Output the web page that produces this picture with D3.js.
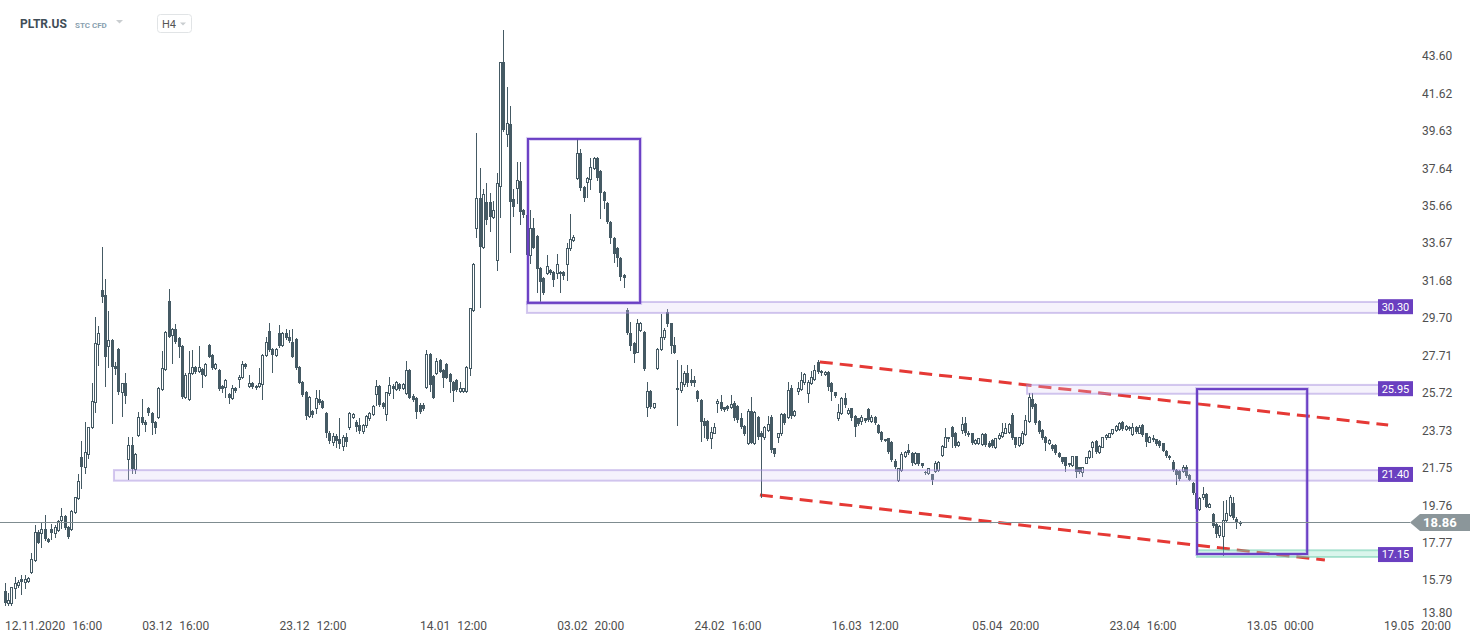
<!DOCTYPE html>
<html>
<head>
<meta charset="utf-8">
<script src="https://cdn.jsdelivr.net/npm/d3@7"></script>
<style>
  html, body { margin: 0; padding: 0; background: #fff; }
  svg { display: block; font-family: Roboto, "Open Sans", sans-serif; }
</style>
</head>
<body>
<svg id="chart"></svg>
<script>
// PLTR.US H4 candles (12.11.2020 -> mid May 2021)
const opens = [
15.24,14.60,14.57,15.36,15.54,15.84,15.71,15.77,16.21,16.86,18.37,18.28,18.49,17.98,18.49,18.31,18.46,18.99,19.20,18.60,
18.49,19.43,20.13,22.31,21.78,22.49,23.90,25.26,28.32,31.19,30.92,28.23,28.53,27.16,28.04,25.79,26.24,22.20,22.96,21.67,
23.49,24.43,24.20,24.91,24.68,24.20,24.43,25.92,26.98,30.60,28.80,29.10,28.62,28.23,25.49,25.39,26.77,27.12,26.91,26.98,
26.68,28.27,27.74,27.03,26.94,26.09,26.02,25.67,25.44,25.97,26.45,26.55,27.26,26.09,26.27,26.09,26.09,26.20,27.74,29.03,
28.04,27.74,28.92,28.27,28.92,28.71,28.45,28.57,27.09,26.32,25.79,24.50,
24.77,24.95,25.41,25.30,24.65,23.60,23.10,23.45,23.30,22.90,23.40,23.94,24.47,24.20,24.00,23.70,24.03,24.38,24.59,25.65,
26.11,25.18,24.59,25.71,26.11,25.94,26.18,25.97,25.71,26.94,25.58,25.47,25.09,25.09,26.06,27.77,26.64,26.77,27.47,26.94,
27.24,26.71,26.32,26.41,25.83,25.83,25.83,27.03,30.13,34.49,36.05,33.49,35.84,35.84,35.08,32.78,36.72,43.26,39.45,39.98,
36.01,36.58,36.97,35.43,35.17,33.04,34.49,34.07,32.37,31.81,32.07,32.25,32.12,32.07,32.12,32.12,32.55,33.43,33.84,37.15,
38.44,36.67,36.90,37.07,37.68,38.21,37.50,36.40,35.78,34.81,33.96,33.40,32.87,31.98,
30.13,28.92,28.39,27.92,29.07,28.97,24.96,25.85,24.96,27.03,28.04,28.68,30.04,29.42,28.27,25.97,25.88,26.20,26.80,26.41,
26.41,25.85,25.35,24.26,24.26,23.32,23.62,25.17,25.26,24.96,25.03,24.96,25.17,25.03,24.38,23.97,23.06,24.79,23.09,24.43,
23.62,23.41,23.76,24.47,22.79,23.37,23.58,24.61,24.43,25.97,24.55,25.85,25.92,26.32,25.71,26.27,26.45,27.39,26.91,26.73,
26.85,26.27,25.79,24.38,24.64,25.44,24.64,24.91,24.50,24.38,24.26,24.38,24.86,24.26,24.47,24.02,23.67,23.26,23.32,23.14,
22.13,21.11,21.64,22.38,22.70,22.56,21.99,22.52,21.99,21.55,21.46,
21.41,21.60,21.65,22.43,22.88,23.37,23.90,23.62,22.96,23.76,24.11,23.62,23.58,23.05,23.05,23.02,23.55,23.09,23.23,22.88,
23.32,23.44,23.62,23.67,24.55,23.37,22.96,23.09,23.55,24.26,25.39,25.14,24.26,23.76,23.41,23.05,22.96,22.96,22.56,22.31,
22.31,21.99,21.90,22.38,21.78,21.55,22.03,22.31,22.88,23.19,22.61,22.88,23.37,23.41,23.58,23.76,23.79,24.20,23.79,23.94,
23.55,23.94,23.62,24.02,23.58,23.14,23.32,23.26,23.19,23.05,22.66,22.38,22.08,21.64,21.60,21.60,21.78,21.37,20.97,20.43,
19.55,20.22,20.36,19.69,19.30,18.77,18.19,18.14,19.00,19.25,19.90,19.02,18.81
];
const highs = [
15.63,15.13,15.45,15.94,15.80,16.07,16.07,15.95,17.22,18.72,18.46,18.81,19.25,18.02,18.77,18.72,19.00,19.60,19.25,18.64,
19.52,20.22,21.43,23.19,24.20,23.94,26.27,29.74,29.28,33.49,31.75,30.09,28.57,27.38,28.09,26.27,26.77,23.37,23.41,22.53,
24.73,25.39,24.29,25.00,24.73,24.25,26.06,27.97,29.03,31.22,29.15,29.38,28.71,28.27,26.77,27.97,28.00,27.16,28.23,27.03,
27.30,28.31,27.78,27.30,26.98,26.13,26.45,25.71,26.15,26.06,26.68,27.44,27.33,26.68,26.32,26.13,27.03,27.78,28.71,29.42,
28.09,28.09,29.33,28.97,29.10,29.07,29.10,28.62,27.13,26.36,25.84,25.57,
24.82,25.88,25.88,25.35,24.70,23.70,23.60,23.55,24.38,23.50,23.60,24.70,24.65,24.30,24.38,24.10,24.55,24.70,25.10,26.41,
26.15,25.27,25.80,26.59,26.18,26.36,26.23,26.23,27.42,26.99,25.65,25.52,25.18,25.18,28.00,27.82,26.68,27.56,27.51,26.98,
27.29,26.76,26.36,26.46,26.29,26.01,27.17,30.25,32.60,39.50,37.64,36.55,36.85,36.32,35.91,37.38,43.30,44.98,41.97,40.97,
36.55,37.99,37.99,35.48,35.22,35.43,34.99,34.12,32.42,31.86,33.04,32.30,32.17,33.08,32.17,32.17,33.66,35.20,34.11,39.20,
38.67,36.72,37.16,38.21,38.25,38.25,37.55,36.45,35.83,34.86,34.01,33.45,32.92,32.03,
30.21,29.51,28.45,29.63,29.50,29.00,26.32,25.90,25.20,28.10,29.91,29.15,30.16,29.45,28.71,27.47,27.20,26.91,27.21,26.98,
26.64,25.90,25.40,24.38,24.30,23.90,24.11,25.39,25.62,25.00,25.06,25.62,25.30,25.10,24.64,24.00,24.85,25.53,24.75,24.50,
23.70,23.95,24.50,24.55,22.80,23.60,24.65,24.68,26.32,26.15,24.80,26.32,26.85,26.77,26.40,26.91,27.20,27.47,26.95,26.90,
26.90,26.30,25.80,25.14,25.50,25.70,24.95,24.95,24.55,24.40,24.55,24.40,24.90,24.55,24.50,24.05,23.70,23.30,23.35,23.20,
22.20,21.75,22.60,22.65,23.02,22.60,22.60,22.55,22.00,21.60,21.75,
21.45,22.10,22.10,22.95,23.85,23.40,23.95,23.65,23.20,24.43,24.43,23.70,23.60,23.30,23.35,23.60,23.60,23.15,23.30,23.35,
23.60,24.11,24.11,24.15,24.64,23.40,23.40,23.70,24.55,25.74,25.70,25.20,24.30,23.80,23.45,23.30,23.00,23.00,22.60,22.35,
22.35,22.00,22.40,22.40,21.80,21.80,22.35,22.70,23.20,23.25,22.95,23.40,23.52,23.62,23.82,24.00,24.20,24.25,24.00,23.98,
24.11,23.98,24.00,24.10,23.62,23.45,23.50,23.30,23.22,23.08,22.70,22.42,22.17,21.68,21.64,21.90,21.90,21.40,21.00,20.47,
20.20,20.72,20.40,19.90,19.35,18.80,18.70,20.01,20.05,20.31,20.22,19.16,18.95
];
const lows = [
14.48,14.49,14.49,14.83,15.45,15.06,15.36,15.71,16.19,16.82,17.74,17.54,17.93,17.79,17.96,18.10,18.42,18.54,18.49,18.03,
18.46,19.38,20.08,20.66,21.50,22.26,23.87,24.73,27.21,30.57,26.09,27.12,24.11,26.73,25.67,24.50,25.21,21.14,21.50,21.46,
23.44,24.07,23.73,24.55,23.55,23.58,24.38,25.88,26.94,28.68,27.30,28.40,27.62,25.44,25.44,25.35,26.73,26.80,26.85,26.06,
26.62,27.62,26.98,26.98,25.88,25.80,25.53,25.17,25.39,25.79,26.02,26.50,27.03,26.06,25.97,25.92,26.06,25.39,27.69,27.97,
26.85,27.69,28.18,28.22,28.57,28.45,27.62,26.98,26.24,25.57,24.33,24.47,
24.47,24.65,25.12,24.91,23.40,23.05,22.95,22.85,22.80,22.70,22.90,23.80,24.40,23.70,23.60,23.60,23.90,24.29,24.55,25.09,
25.05,24.91,24.29,25.62,25.48,25.89,25.89,25.94,25.66,25.44,25.30,24.42,24.65,24.82,26.01,25.83,25.44,26.72,26.81,26.06,
26.50,25.76,25.30,25.83,25.79,25.79,25.79,26.68,30.08,34.02,30.30,33.44,34.67,34.32,35.03,32.25,35.08,39.63,38.85,33.19,
35.13,35.78,34.67,35.08,33.00,32.60,33.39,31.10,30.60,30.96,32.02,32.02,31.42,31.81,31.10,31.77,31.72,33.31,33.79,37.10,
36.49,35.91,36.14,36.55,37.63,37.02,35.02,35.55,34.76,33.66,32.69,32.48,31.70,31.36,
28.85,28.00,27.35,27.87,29.00,26.95,24.50,24.90,24.90,26.98,28.00,28.60,29.30,27.83,27.83,24.02,25.80,26.10,26.09,26.15,
26.10,25.30,23.19,23.37,23.23,22.80,23.58,24.73,24.82,24.75,24.80,24.90,24.30,24.20,23.85,23.50,23.00,23.05,23.00,23.30,
20.22,23.30,23.70,22.61,22.40,23.14,23.50,24.10,24.40,24.40,24.50,25.67,25.90,26.20,25.26,26.20,26.40,26.80,26.70,26.70,
25.90,25.35,25.50,24.29,24.60,25.00,24.60,24.30,23.44,24.00,24.08,24.20,24.25,24.20,24.10,23.60,23.20,23.15,22.55,22.10,
21.75,21.05,21.60,22.30,22.50,21.90,21.95,21.90,21.80,21.40,21.40,
20.90,21.55,21.60,22.40,22.85,23.20,22.88,22.85,22.90,23.60,23.50,23.45,23.00,23.00,23.00,22.95,22.90,22.85,22.85,22.80,
23.30,23.40,23.60,23.60,23.30,22.88,22.90,23.00,23.50,24.20,24.95,24.10,23.60,23.30,22.70,23.00,22.70,22.50,22.30,22.00,
21.60,21.85,21.85,21.25,21.50,21.30,22.00,22.25,22.35,22.55,22.55,22.85,23.30,23.38,23.55,23.72,23.75,23.75,23.75,23.75,
23.50,23.62,23.58,23.45,22.91,23.10,23.20,22.98,22.88,22.62,22.30,22.22,21.60,20.90,21.10,21.55,21.28,21.08,20.36,19.50,
19.50,20.10,19.65,19.65,18.60,18.10,18.10,17.13,18.95,19.20,19.02,18.54,18.70
];
const closes = [
14.57,14.74,15.41,15.62,15.71,15.71,15.84,15.89,16.90,18.37,17.78,18.49,17.96,17.84,18.31,18.60,18.95,19.20,18.54,18.07,
19.48,20.19,21.07,21.78,22.58,23.90,25.32,28.36,28.89,30.83,27.65,28.53,27.09,27.01,25.79,26.24,25.58,22.96,21.67,22.49,
24.43,24.11,24.03,24.64,24.11,23.85,25.97,27.03,28.98,28.71,29.10,28.45,28.18,25.49,26.68,26.77,27.09,26.85,27.12,26.68,
27.26,27.65,27.03,27.26,25.92,25.92,26.41,25.44,25.97,25.85,26.59,27.26,27.12,26.27,26.02,25.97,26.24,27.74,28.45,28.00,
27.74,28.04,28.22,28.92,28.62,28.50,27.65,27.03,26.27,25.62,24.50,25.53,
24.56,25.44,25.18,24.95,23.60,23.20,23.45,23.15,23.00,23.40,23.10,24.65,24.59,23.94,23.70,24.00,24.52,24.65,25.05,26.11,
25.09,25.00,25.76,26.15,25.94,26.29,25.94,26.18,26.94,25.48,25.35,24.70,24.73,24.87,27.77,26.15,25.47,27.42,26.85,26.54,
26.54,26.29,25.83,25.88,25.97,25.97,27.12,30.21,32.55,36.05,33.49,36.26,34.90,35.08,35.43,36.85,43.26,39.68,40.03,35.84,
35.61,37.02,35.34,35.17,33.04,34.49,33.43,32.30,31.63,31.01,32.48,32.07,31.72,32.55,32.02,31.95,33.43,33.89,34.02,38.44,
36.58,36.05,37.11,37.73,38.21,37.11,36.32,35.91,34.81,33.93,33.08,32.87,31.89,31.81,
28.89,28.22,27.79,29.42,29.42,26.98,25.85,24.96,25.17,28.04,28.68,29.07,29.38,28.22,27.86,25.88,26.32,26.80,26.23,26.27,
26.27,25.39,24.20,23.97,23.26,23.67,23.94,25.31,24.86,24.82,24.86,25.14,24.38,24.29,23.90,23.55,24.79,23.09,24.70,23.41,
23.41,23.90,24.08,22.70,22.49,23.58,24.61,24.15,25.88,24.50,24.78,25.97,26.41,26.73,26.32,26.59,26.94,26.85,26.77,26.85,
26.06,25.79,25.56,24.73,25.44,25.09,24.82,24.38,23.94,24.08,24.47,24.26,24.29,24.47,24.15,23.62,23.23,23.19,22.61,22.17,
21.82,21.73,22.48,22.61,22.56,21.99,22.52,21.96,21.85,21.46,21.72,
21.11,22.03,22.05,22.91,23.37,23.26,23.37,22.91,23.14,24.08,23.58,23.49,23.09,23.23,23.32,23.55,22.96,22.88,22.91,23.32,
23.49,23.67,23.85,24.08,23.32,22.96,23.37,23.62,24.29,25.49,24.99,24.15,23.67,23.32,23.05,23.23,22.73,22.52,22.35,22.08,
21.85,21.90,22.38,21.55,21.55,21.78,22.31,22.66,23.14,22.61,22.91,23.37,23.49,23.58,23.79,23.97,24.15,23.79,23.97,23.79,
23.94,23.67,23.94,23.49,23.14,23.41,23.23,23.02,22.91,22.66,22.38,22.26,21.64,21.37,21.14,21.81,21.32,21.11,20.40,19.55,
20.14,20.36,19.69,19.84,18.67,18.25,18.67,18.98,19.34,20.22,19.07,18.81,18.86
];

// axis labels
const priceTicks = [43.60, 41.62, 39.63, 37.64, 35.66, 33.67, 31.68, 29.70, 27.71, 25.72, 23.73, 21.75, 19.76, 17.77, 15.79, 13.80];
const dateDays  = ["12.11.2020", "03.12", "23.12", "14.01", "03.02", "24.02", "16.03", "05.04", "23.04", "13.05", "19.05"];
const dateTimes = ["16:00", "16:00", "12:00", "12:00", "20:00", "16:00", "12:00", "20:00", "16:00", "00:00", "20:00"];
const dateIdx   = [0, 41, 82, 124, 165, 206, 247, 289, 330, 371, 412];

// horizontal zones (price band, first candle index, label value)
const zoneValue = [30.30, 25.95, 21.40, 17.15];
const zoneLow   = [29.97, 25.68, 21.07, 17.02];
const zoneHigh  = [30.55, 26.15, 21.63, 17.38];
const zoneFrom  = [156.1, 305.5, 32.7, 356.3];
const zoneGreen = [false, false, false, true];

// purple boxes [fromIdx, toIdx, topPrice, bottomPrice]
const boxFrom = [156.4, 356.3];
const boxTo   = [189.9, 389.2];
const boxTop  = [39.20, 25.93];
const boxBot  = [30.50, 17.18];

// red channel lines
const trendX1 = [243.6, 225.7];
const trendY1 = [27.37, 20.31];
const trendX2 = [413.4, 394.5];
const trendY2 = [24.02, 16.86];

const lastPrice = 18.86;

const W = 1482, H = 643;
const plotRight = 1380;
const candleColor = "#455a64";

const svg = d3.select("#chart")
  .attr("width", W)
  .attr("height", H);

svg.append("rect")
  .attr("width", W).attr("height", H)
  .attr("fill", "#fff");

const xScale = d3.scaleLinear()
  .domain([0, 412])
  .range([4.5, 4.5 + 412 * 3.347]);

const yScale = d3.scaleLinear()
  .domain([13.80, 43.60])
  .range([617.7, 56]);

const candles = opens.map((o, i) => ({
  i: i, o: o, c: closes[i],
  h: Math.max(highs[i], o, closes[i]),
  l: Math.min(lows[i], o, closes[i])
}));

// ---- header ----
const head = svg.append("g");
head.append("text")
  .attr("x", 20).attr("y", 28)
  .text("PLTR.US")
  .style("font-size", "12px")
  .style("font-weight", "bold")
  .style("fill", "#3f4d57");
head.append("text")
  .attr("x", 75).attr("y", 27.5)
  .text("STC  CFD")
  .style("font-size", "8px")
  .style("font-weight", "bold")
  .style("fill", "#8aa1b0");
head.append("path")
  .attr("d", "M116,20 L123,20 L119.5,23.5 Z")
  .style("fill", "#c9cdd0");
head.append("rect")
  .attr("x", 157.5).attr("y", 14.5)
  .attr("width", 34).attr("height", 18)
  .attr("rx", 3)
  .style("fill", "#fff")
  .style("stroke", "#e1e4e6");
head.append("text")
  .attr("x", 162).attr("y", 28)
  .text("H4")
  .style("font-size", "11px")
  .style("fill", "#555");
head.append("path")
  .attr("d", "M180,22.5 L186,22.5 L183,25.5 Z")
  .style("fill", "#c9cdd0");

// ---- red channel lines (under zones) ----
const trends = svg.append("g");
trendX1.forEach((x1, k) => {
  trends.append("line")
    .attr("x1", xScale(x1)).attr("y1", yScale(trendY1[k]))
    .attr("x2", xScale(trendX2[k])).attr("y2", yScale(trendY2[k]))
    .style("stroke", "#e53935")
    .style("stroke-width", 3)
    .style("stroke-dasharray", "13,7");
});

// ---- candles ----
const cg = svg.append("g").attr("shape-rendering", "crispEdges");
const px = d => Math.round(xScale(d.i));

cg.selectAll("line.wick")
  .data(candles)
  .enter()
  .append("line")
    .attr("class", "wick")
    .attr("x1", d => px(d) + 0.5)
    .attr("x2", d => px(d) + 0.5)
    .attr("y1", d => Math.round(yScale(d.h)))
    .attr("y2", d => Math.round(yScale(d.l)) + 1)
    .style("stroke", candleColor)
    .style("stroke-width", 1);

// bearish: filled body
cg.selectAll("rect.down")
  .data(candles.filter(d => d.c < d.o))
  .enter()
  .append("rect")
    .attr("class", "down")
    .attr("x", d => px(d) - 1)
    .attr("width", 3)
    .attr("y", d => Math.round(yScale(d.o)))
    .attr("height", d => Math.max(1, Math.round(yScale(d.c)) - Math.round(yScale(d.o))))
    .style("fill", candleColor);

// bullish: hollow body
cg.selectAll("rect.up")
  .data(candles.filter(d => d.c >= d.o))
  .enter()
  .append("rect")
    .attr("class", "up")
    .attr("x", d => px(d) - 0.5)
    .attr("width", 2)
    .attr("y", d => Math.round(yScale(d.c)) + 0.5)
    .attr("height", d => Math.max(1, Math.round(yScale(d.o)) - Math.round(yScale(d.c))))
    .style("fill", "#fff")
    .style("stroke", candleColor)
    .style("stroke-width", 1);

// ---- zones ----
const zg = svg.append("g");
zoneValue.forEach((v, k) => {
  const x0 = xScale(zoneFrom[k]);
  const yTop = yScale(zoneHigh[k]), yBot = yScale(zoneLow[k]);
  zg.append("rect")
    .attr("x", x0).attr("y", yTop)
    .attr("width", plotRight - x0)
    .attr("height", yBot - yTop)
    .style("fill", zoneGreen[k] ? "rgba(150,225,200,0.35)" : "rgba(215,205,245,0.25)")
    .style("stroke", zoneGreen[k] ? "rgba(90,200,165,0.45)" : "rgba(160,135,220,0.45)")
    .style("stroke-width", 2);
});

// ---- purple boxes ----
const bg = svg.append("g");
boxFrom.forEach((b, k) => {
  const x0 = xScale(b), x1 = xScale(boxTo[k]);
  const y0 = yScale(boxTop[k]), y1 = yScale(boxBot[k]);
  bg.append("rect")
    .attr("x", x0).attr("y", y0)
    .attr("width", x1 - x0).attr("height", y1 - y0)
    .style("fill", "none")
    .style("stroke", "rgba(120,80,210,0.25)")
    .style("stroke-width", 4);
  bg.append("rect")
    .attr("x", x0).attr("y", y0)
    .attr("width", x1 - x0).attr("height", y1 - y0)
    .style("fill", "none")
    .style("stroke", "#6a3fc4")
    .style("stroke-width", 2);
});

// ---- last price line ----
const yLast = Math.round(yScale(lastPrice)) + 0.5;
svg.append("line")
  .attr("x1", 0).attr("x2", 1410)
  .attr("y1", yLast).attr("y2", yLast)
  .style("stroke", "#7f8c90")
  .style("stroke-width", 1);

// ---- zone labels ----
zoneValue.forEach((v, k) => {
  const yc = yScale(v);
  svg.append("rect")
    .attr("x", 1378).attr("y", yc - 7.5)
    .attr("width", 35).attr("height", 15)
    .style("fill", "#6a3fc0");
  svg.append("text")
    .attr("x", 1395.5).attr("y", yc)
    .attr("dy", "0.35em")
    .text(v.toFixed(2))
    .style("font-size", "11px")
    .style("text-anchor", "middle")
    .style("fill", "#fff");
});

// ---- price axis labels ----
svg.append("g")
  .selectAll("text")
  .data(priceTicks)
  .enter()
  .append("text")
    .attr("x", 1422)
    .attr("y", d => Math.min(yScale(d), 613))
    .attr("dy", "0.35em")
    .text(d => d.toFixed(2))
    .style("font-size", "12px")
    .style("fill", "#4f4f4f");

// last price tag
svg.append("path")
  .attr("d", `M1410,${yLast} L1420,${yLast - 8.5} L1470,${yLast - 8.5} L1470,${yLast + 8.5} L1420,${yLast + 8.5} Z`)
  .style("fill", "#8b969a");
svg.append("text")
  .attr("x", 1423).attr("y", yLast)
  .attr("dy", "0.36em")
  .text(lastPrice.toFixed(2))
  .style("font-size", "13px")
  .style("font-weight", "bold")
  .style("fill", "#fff");

// ---- date axis labels ----
const dg = svg.append("g");
dateIdx.forEach((idx, k) => {
  const t = dg.append("text")
    .attr("x", xScale(idx) + 0.5)
    .attr("y", 630)
    .style("font-size", "12px")
    .style("fill", "#4f4f4f");
  t.append("tspan").text(dateDays[k]);
  t.append("tspan").attr("dx", 7).text(dateTimes[k]);
});
</script>
</body>
</html>
